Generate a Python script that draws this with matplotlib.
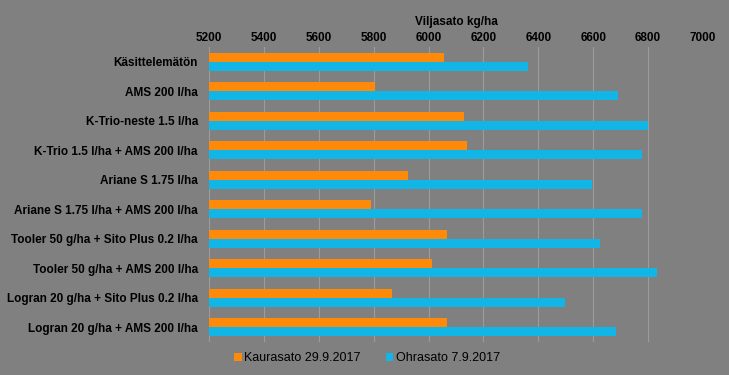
import numpy as np
import matplotlib.pyplot as plt

# Data
categories = [
    "Käsittelemätön",
    "AMS 200 l/ha",
    "K-Trio-neste 1.5 l/ha",
    "K-Trio 1.5 l/ha + AMS 200 l/ha",
    "Ariane S 1.75 l/ha",
    "Ariane S 1.75 l/ha + AMS 200 l/ha",
    "Tooler 50 g/ha + Sito Plus 0.2 l/ha",
    "Tooler 50 g/ha + AMS 200 l/ha",
    "Logran 20 g/ha + Sito Plus 0.2 l/ha",
    "Logran 20 g/ha + AMS 200 l/ha",
]
kaura = [6057, 5805, 6129, 6139, 5925, 5790, 6068, 6012, 5867, 6069]
ohra = [6363, 6691, 6798, 6776, 6595, 6779, 6624, 6834, 6497, 6683]
xticks = [5200, 5400, 5600, 5800, 6000, 6200, 6400, 6600, 6800, 7000]

bg = "#808080"
orange = "#FF8A0A"
blue = "#12B6E6"

plt.rcParams['font.family'] = ['Liberation Sans', 'DejaVu Sans']

fig = plt.figure(figsize=(7.29, 3.75), dpi=100, facecolor=bg)
ax = fig.add_axes([209 / 729, 33 / 375, 494 / 729, 295 / 375], facecolor=bg)

y = np.arange(len(categories))
h = 0.31
ax.barh(y - h / 2, np.array(kaura) - 5200, left=5200, height=h, color=orange,
        label="Kaurasato 29.9.2017", zorder=3)
ax.barh(y + h / 2, np.array(ohra) - 5200, left=5200, height=h, color=blue,
        label="Ohrasato 7.9.2017", zorder=3)

ax.set_xlim(5200, 7000)
ax.set_ylim(len(categories) - 0.5, -0.5)
ax.set_yticks(y)
ax.set_yticklabels(categories, fontsize=8.5, fontweight='bold')
ax.set_xticks(xticks)
ax.set_xticklabels([str(t) for t in xticks], fontsize=8.5, fontweight='bold')
ax.xaxis.tick_top()
ax.xaxis.set_label_position('top')
ax.set_xlabel("Viljasato kg/ha", fontsize=8.5, fontweight='bold', labelpad=5)
ax.tick_params(axis='x', length=0, pad=2)
ax.tick_params(axis='y', length=0, pad=8)
ax.grid(axis='x', color='#9c9c9c', linewidth=0.8, zorder=0)
for s in ax.spines.values():
    s.set_visible(False)

leg = fig.legend(loc='center', bbox_to_anchor=(367 / 729, 1 - 358 / 375), ncol=2,
                 frameon=False, fontsize=9, handlelength=0.6, handleheight=0.6,
                 handletextpad=0.2, columnspacing=2.0)

fig.savefig("out.png", dpi=100, facecolor=bg)
